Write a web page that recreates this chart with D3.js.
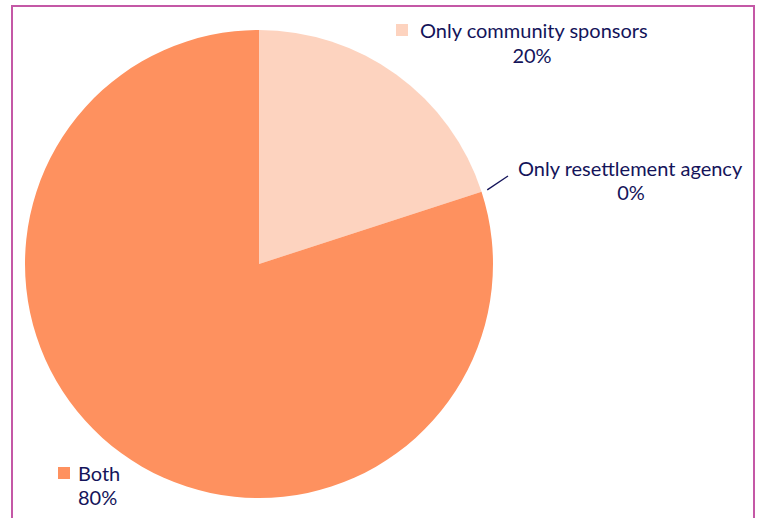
<!DOCTYPE html>
<html>
<head>
<meta charset="utf-8">
<script src="https://cdn.jsdelivr.net/npm/d3@7"></script>
<style>
  html, body { margin: 0; padding: 0; background: #fff; }
  svg { display: block; }
  text { font-family: Lato, "Noto Sans", sans-serif; fill: #14145a; }
</style>
</head>
<body>
<svg id="chart" width="759" height="518"></svg>
<script>
// Who supported the household
const categories = ["Only community sponsors", "Only resettlement agency", "Both"];
const shares = [20, 0, 80];
const valueLabels = ["20%", "0%", "80%"];
const sliceColors = ["#fdd3bf", "#f4a582", "#fe915f"];

const svg = d3.select("#chart");
const W = 759, H = 518;

// frame
svg.append("path")
  .attr("d", `M12,${H + 5} V6 H754 V${H + 5}`)
  .attr("fill", "none")
  .attr("stroke", "#c458a6")
  .attr("stroke-width", 2);

const cx = 259, cy = 264, r = 234;
const data = categories.map((c, i) => ({ name: c, value: shares[i], label: valueLabels[i], color: sliceColors[i] }));

const pie = d3.pie().value(d => d.value).sort(null);
const arc = d3.arc().innerRadius(0).outerRadius(r);
const arcs = pie(data);

const g = svg.append("g").attr("transform", `translate(${cx},${cy})`);
g.selectAll("path.slice")
  .data(arcs.filter(d => d.data.value > 0))
  .join("path")
  .attr("class", "slice")
  .attr("d", arc)
  .attr("fill", d => d.data.color);

// legend-style labels
const fs = 20;

// Only community sponsors
const a0 = arcs[0];
const lab0 = svg.append("g");
lab0.append("rect").attr("x", 396).attr("y", 24).attr("width", 12).attr("height", 12).attr("fill", a0.data.color);
lab0.append("text").attr("x", 420).attr("y", 38).attr("font-size", fs).text(a0.data.name);
lab0.append("text").attr("x", 532).attr("y", 63).attr("font-size", fs).attr("text-anchor", "middle").text(a0.data.label);

// Only resettlement agency (zero slice, leader line)
const a1 = arcs[1];
const ang = a1.startAngle;
const p1 = [cx + (r + 6) * Math.sin(ang), cy - (r + 6) * Math.cos(ang)];
svg.append("line")
  .attr("x1", p1[0]).attr("y1", p1[1])
  .attr("x2", 508).attr("y2", 176)
  .attr("stroke", "#14145a").attr("stroke-width", 1.3);
svg.append("text").attr("x", 518).attr("y", 176).attr("font-size", fs).text(a1.data.name);
svg.append("text").attr("x", 631).attr("y", 200).attr("font-size", fs).attr("text-anchor", "middle").text(a1.data.label);

// Both
const a2 = arcs[2];
svg.append("rect").attr("x", 58).attr("y", 467).attr("width", 12).attr("height", 12).attr("fill", a2.data.color);
svg.append("text").attr("x", 78).attr("y", 481).attr("font-size", fs).text(a2.data.name);
svg.append("text").attr("x", 78).attr("y", 505).attr("font-size", fs).text(a2.data.label);
</script>
</body>
</html>
